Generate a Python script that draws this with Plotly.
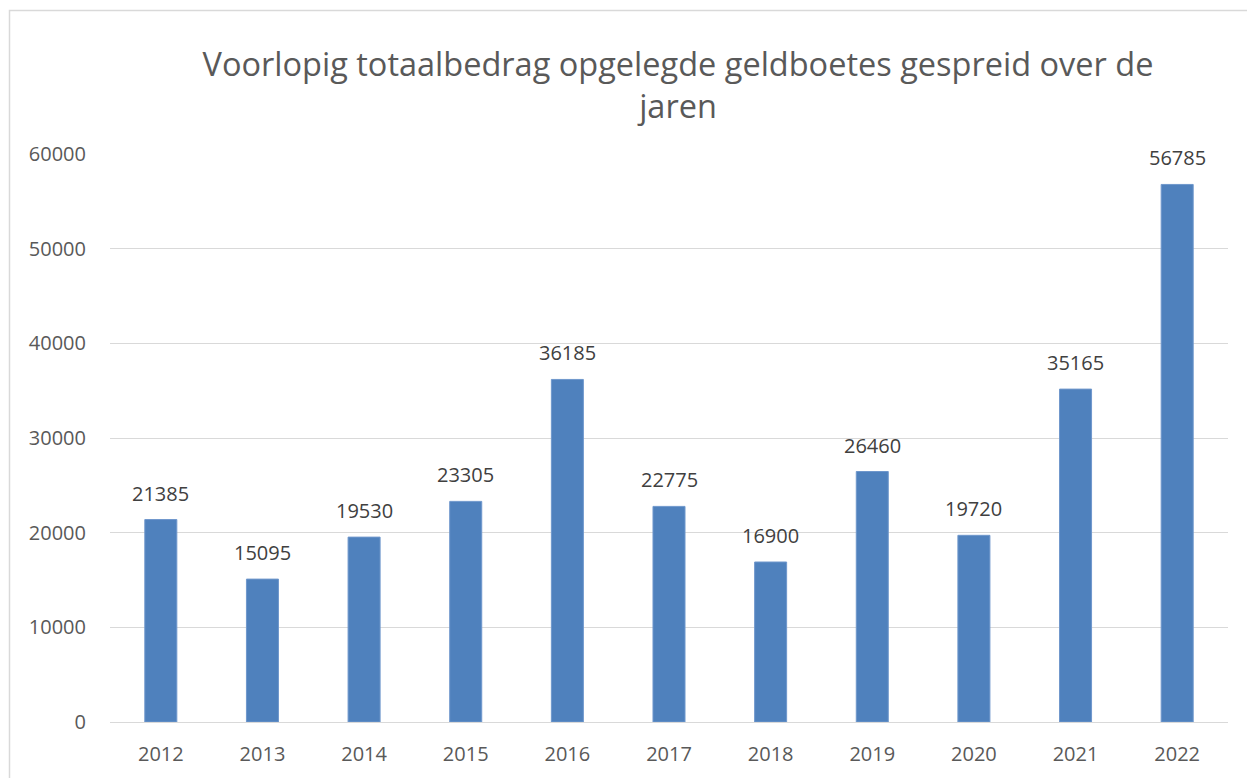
import plotly.graph_objects as go

years = ["2012", "2013", "2014", "2015", "2016", "2017", "2018", "2019", "2020", "2021", "2022"]
amounts = [21385, 15095, 19530, 23305, 36185, 22775, 16900, 26460, 19720, 35165, 56785]
y_ticks = [0, 10000, 20000, 30000, 40000, 50000, 60000]

TXT = "#595959"
FONT = "Open Sans"
OFF = 8  # default page body margin
W, H = 1255 - OFF, 778 - OFF
L, R, T, B = 110 - OFF, 27, 154 - OFF, 56
PW, PH = W - L - R, H - T - B

fig = go.Figure()
fig.add_trace(go.Bar(
    x=years, y=amounts,
    marker=dict(color="#4f81bd", line=dict(color="#6f97cc", width=1)),
    hoverinfo="x+y",
))

for i, v in enumerate(amounts):
    fig.add_annotation(x=i, y=v, text=str(v), showarrow=False,
                       yanchor="bottom", yshift=11,
                       font=dict(family=FONT, size=20, color="#404040"))

fig.update_layout(
    width=W, height=H,
    paper_bgcolor="white", plot_bgcolor="white",
    margin=dict(l=L, r=R, t=T, b=B),
    bargap=0.685,
    showlegend=False,
    title=dict(text="Voorlopig totaalbedrag opgelegde geldboetes gespreid over de<br>jaren",
               x=(678 - OFF) / W, xanchor="center", y=1 - (76 - OFF) / H, yanchor="top",
               font=dict(family=FONT, size=32.5, color=TXT)),
    font=dict(family=FONT, color=TXT),
)
fig.update_xaxes(type="category", range=[-0.5, len(years) - 0.5], showgrid=False,
                 showline=True, linecolor="#d9d9d9", linewidth=1,
                 ticks="", tickfont=dict(family=FONT, size=20, color=TXT), ticklabelstandoff=14)
fig.update_yaxes(range=[0, 60000], tickvals=y_ticks, tickformat="d", showgrid=True,
                 gridcolor="#d9d9d9", gridwidth=1,
                 zeroline=False, showline=False, ticks="",
                 tickfont=dict(family=FONT, size=20, color=TXT), ticklabelstandoff=23)

# outer chart border (extends past right/bottom edges of the view)
fig.add_shape(type="rect", xref="paper", yref="paper",
              x0=(9.5 - 110) / PW, x1=(1300 - 110) / PW,
              y0=(722 - 800) / PH, y1=(722 - 10.5) / PH,
              line=dict(color="#d9d9d9", width=1.5), fillcolor="rgba(0,0,0,0)", layer="below")

fig.write_html("out.html")
